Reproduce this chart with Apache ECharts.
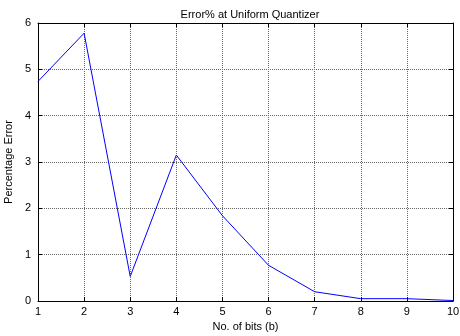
<!DOCTYPE html>
<html><head><meta charset="utf-8">
<script src="https://cdn.jsdelivr.net/npm/echarts@6/dist/echarts.min.js"></script>
<style>html,body{margin:0;padding:0;background:#fff}#c{width:460px;height:336px}</style>
</head><body><div id="c"></div>
<script>
const bits = [1, 2, 3, 4, 5, 6, 7, 8, 9, 10];
const errorPct = [4.74, 5.78, 0.53, 3.15, 1.84, 0.77, 0.2, 0.05, 0.05, 0.01];
const titleText = 'Error% at Uniform Quantizer';
const xName = 'No. of bits (b)';
const yName = 'Percentage Error';

const font = 'Liberation Sans, Arial, sans-serif';
const chart = echarts.init(document.getElementById('c'), null, {renderer: 'canvas'});
const gridLine = {show: true, lineStyle: {color: '#666', type: [1, 1], width: 1}};
chart.setOption({
  animation: false,
  title: {text: titleText, left: 245, top: 4, textAlign: 'center',
    textStyle: {fontFamily: font, fontSize: 11, fontWeight: 'normal', color: '#000'}},
  grid: {left: 38, right: 7, top: 23, bottom: 35, containLabel: false, outerBoundsMode: 'none'},
  xAxis: [{
    type: 'value', min: 1, max: 10, interval: 1,
    name: xName, nameLocation: 'middle', nameGap: 19,
    nameTextStyle: {fontFamily: font, fontSize: 11, color: '#000'},
    axisLine: {show: true, onZero: false, lineStyle: {color: '#000', width: 1}},
    axisTick: {show: true, inside: true, length: 4, lineStyle: {color: '#000'}},
    axisLabel: {fontFamily: font, fontSize: 11, color: '#000', margin: 5},
    splitLine: gridLine
  }, {
    type: 'value', min: 1, max: 10, interval: 1, position: 'top',
    axisLine: {show: true, onZero: false, lineStyle: {color: '#000', width: 1}},
    axisTick: {show: true, inside: true, length: 4, lineStyle: {color: '#000'}},
    axisLabel: {show: false}, splitLine: {show: false}
  }],
  yAxis: [{
    type: 'value', min: 0, max: 6, interval: 1,
    name: yName, nameLocation: 'middle', nameGap: 23, nameRotate: 90,
    nameTextStyle: {fontFamily: font, fontSize: 11, color: '#000'},
    axisLine: {show: true, onZero: false, lineStyle: {color: '#000', width: 1}},
    axisTick: {show: true, inside: true, length: 4, lineStyle: {color: '#000'}},
    axisLabel: {fontFamily: font, fontSize: 11, color: '#000', margin: 7},
    splitLine: gridLine
  }, {
    type: 'value', min: 0, max: 6, interval: 1, position: 'right',
    axisLine: {show: true, onZero: false, lineStyle: {color: '#000', width: 1}},
    axisTick: {show: true, inside: true, length: 4, lineStyle: {color: '#000'}},
    axisLabel: {show: false}, splitLine: {show: false}
  }],
  series: [{
    type: 'line', data: bits.map((b, i) => [b, errorPct[i]]),
    showSymbol: false, symbol: 'none',
    lineStyle: {color: '#0000ff', width: 1}
  }]
});
</script></body></html>
